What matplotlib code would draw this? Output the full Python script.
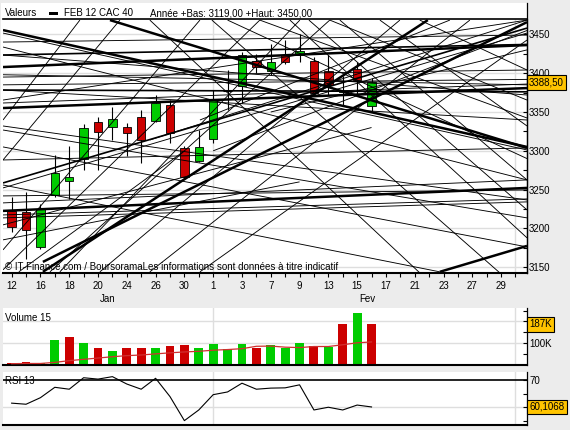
import matplotlib
matplotlib.use("Agg")
import matplotlib.pyplot as plt
from matplotlib.patches import Rectangle
from matplotlib.lines import Line2D

plt.rcParams['font.family'] = ['Liberation Sans', 'DejaVu Sans']
FS = 7

# trading days shown on the x axis (index 0 = 12 jan)
DAY_LABELS = ['12', '13', '16', '17', '18', '19', '20', '23', '24', '25', '26', '27',
              '30', '31', '1', '2', '3', '6', '7', '8', '9', '10', '13', '14', '15',
              '16', '17', '20', '21', '22', '23', '24', '27', '28', '29', '1']
MONTHS = ['Jan', 'Fev']

# daily candles, CAC 40
OPEN = [3222, 3221, 3176, 3243, 3261, 3290, 3337, 3331, 3331, 3343, 3339, 3359, 3303,
        3287, 3315, 3377, 3383, 3416, 3403, 3423, 3423, 3416, 3403, 3375.5, 3405, 3358]
HIGH = [3240, 3247, 3232, 3295, 3306, 3335, 3343, 3357, 3336, 3353, 3372, 3365, 3306,
        3327, 3378, 3404, 3427, 3425, 3438, 3443, 3450, 3421, 3423, 3396, 3415, 3394]
LOW = [3196, 3160, 3174, 3241, 3238, 3275, 3275, 3314, 3293, 3284, 3337, 3310, 3264,
       3286, 3310, 3353, 3361, 3400, 3398, 3412, 3415, 3372, 3372, 3359, 3372, 3350]
CLOSE = [3202, 3198, 3225, 3271, 3266, 3329, 3324, 3341, 3323, 3314, 3362, 3323, 3266,
         3305, 3366, 3377, 3423, 3408, 3414, 3415, 3428, 3374, 3385, 3377, 3391, 3388.5]

# volume (thousands) and 15 day average
VOLUME = [7, 12, 7, 113, 128, 100, 80, 66, 77, 80, 77, 86, 91, 80, 95, 75, 95, 76, 91,
          79, 100, 89, 82, 187, 240, 187]
VOLUME_UP = [0, 0, 1, 1, 0, 1, 0, 1, 0, 0, 1, 0, 0, 1, 1, 1, 1, 0, 1, 1, 1, 0, 1, 0, 1, 0]
VOLUME_MA = [6, 7, 7, 12, 20, 26, 32, 38, 43, 46, 51, 56, 60, 63, 68, 71, 75, 86, 87, 82,
             80, 85, 85, 93, 102, 106]

# RSI 13
RSI = [61.5, 61.1, 63.5, 67.3, 66.6, 70.8, 70.3, 71.2, 68.5, 66.6, 70.6, 63.9, 55.1,
       59.0, 64.6, 65.6, 68.8, 66.6, 67.0, 67.1, 68.2, 59.0, 60.0, 59.0, 60.8, 60.1068]

# drawn trend lines: (start day, start price, end day, end price)
THICK_LINES = [(-0.6, 3455.5, 35.8, 3305.0), (-0.6, 3355.1, 35.8, 3380.8),
               (-0.6, 3407.9, 35.8, 3436.2), (2.17, 3156.9, 35.8, 3465.8),
               (6.83, 3468.4, 35.8, 3303.7), (-0.6, 3222.6, 35.8, 3252.2),
               (29.74, 3144.1, 35.8, 3177.5), (2.17, 3144.1, 28.91, 3468.4)]
MEDIUM_LINES = [(-0.6, 3258.6, 35.8, 3458.1), (-0.6, 3378.3, 35.8, 3376.0),
                (-0.6, 3423.4, 35.8, 3437.0)]
THIN_LINES = [(-0.6, 3451.7, 35.8, 3301.1), (-0.6, 3361.6, 35.8, 3386.0),
              (-0.6, 3252.2, 35.8, 3451.7), (-0.6, 3232.9, 35.8, 3262.5),
              (-0.6, 3172.4, 13.08, 3468.4), (-0.6, 3146.7, 17.24, 3468.4),
              (2.66, 3144.1, 22.10, 3468.4), (6.13, 3144.1, 26.97, 3468.4),
              (9.60, 3144.1, 31.83, 3468.4), (13.08, 3144.1, 35.8, 3442.7),
              (3.35, 3144.1, 20.02, 3468.4), (-0.6, 3288.2, 7.52, 3468.4),
              (-0.6, 3339.7, 4.74, 3468.4), (-0.6, 3204.6, 25.0, 3330.0),
              (-0.6, 3185.3, 20.0, 3260.0), (0.5, 3144.1, 12.0, 3300.0),
              (13.91, 3468.4, 33.91, 3142.8), (19.33, 3468.4, 35.8, 3187.9),
              (20.65, 3468.4, 35.8, 3223.9), (22.80, 3468.4, 35.8, 3262.5),
              (9.60, 3468.4, 28.35, 3142.8), (25.58, 3468.4, 35.8, 3332.0),
              (22.10, 3468.4, 35.8, 3365.4), (28.35, 3468.4, 35.8, 3404.1),
              (17.24, 3468.4, 35.8, 3342.3), (15.0, 3468.4, 35.8, 3290.0),
              (-0.6, 3332.0, 35.8, 3236.7), (-0.6, 3326.8, 35.8, 3213.6),
              (-0.6, 3305.0, 35.8, 3176.2), (-0.6, 3256.0, 29.74, 3144.1),
              (-0.6, 3433.7, 35.8, 3262.5), (-0.6, 3378.3, 35.8, 3339.7),
              (-0.6, 3423.4, 35.8, 3371.9), (-0.6, 3288.2, 35.8, 3303.7),
              (-0.6, 3241.9, 35.8, 3249.6), (-0.6, 3217.4, 35.8, 3238.0),
              (-0.6, 3213.6, 35.8, 3234.2), (-0.6, 3440.1, 35.8, 3449.1),
              (-0.6, 3395.0, 35.8, 3404.1), (-0.6, 3365.4, 35.8, 3468.4),
              (9.60, 3314.0, 35.8, 3468.4), (13.08, 3339.7, 30.44, 3468.4),
              (14.0, 3300.0, 35.8, 3455.0), (-0.6, 3398.0, 35.8, 3385.0),
              (-0.6, 3385.0, 35.8, 3392.0), (18.0, 3350.0, 35.8, 3430.0)]

RED = '#CC0000'
GREEN = '#00CC00'
GRID = '#DEDEDE'
BOX = '#FFC400'
W, H = 570, 430


def fig_rect(x0, y0, x1, y1):
    # pixel box (top-left origin) to figure fraction rect
    return [x0 / W, 1 - y1 / H, (x1 - x0) / W, (y1 - y0) / H]


def value_box(ax, y, text):
    ax.text(1.0 + 2 / 524, y, text, transform=ax.get_yaxis_transform(), fontsize=FS,
            va='center', ha='left', zorder=10, clip_on=False,
            bbox=dict(boxstyle='square,pad=0.25', fc=BOX, ec='black', lw=0.8))


def style_axis(ax, ymin, ymax):
    ax.set_xlim(-0.6, 35.8)
    ax.set_ylim(ymin, ymax)
    ax.set_facecolor('white')
    for s in ['top', 'left']:
        ax.spines[s].set_visible(False)
    ax.spines['right'].set_linewidth(0.9)
    ax.spines['bottom'].set_linewidth(1.5)
    ax.yaxis.tick_right()
    ax.tick_params(axis='y', direction='in', length=3, width=0.8, labelsize=FS, pad=1.5)
    ax.axvline(14, color=GRID, lw=1, zorder=0)
    ax.axvline(35, color=GRID, lw=1, zorder=0)


fig = plt.figure(figsize=(W / 100, H / 100), dpi=100)
fig.patch.set_facecolor('#ECECEC')
fig.add_artist(Rectangle((1 / W, 1 - 273 / H), 526 / W, 270 / H, transform=fig.transFigure,
                         fc='white', ec='none', zorder=0))

# ---- price panel
ax = fig.add_axes(fig_rect(3, 19, 527, 273))
style_axis(ax, 3142.6, 3469.8)
ax.spines['top'].set_visible(True)
ax.spines['top'].set_linewidth(1.2)
ax.set_yticks(range(3150, 3451, 50))
ax.set_yticks(range(3175, 3451, 50), minor=True)
ax.tick_params(axis='y', which='minor', direction='in', length=3, width=0.8)
for level in range(3150, 3451, 50):
    ax.axhline(level, color=GRID, lw=1, zorder=0)

ax.set_xticks(range(36))
ax.set_xticklabels([d if i % 2 == 0 else '' for i, d in enumerate(DAY_LABELS)])
ax.tick_params(axis='x', direction='out', length=3, width=0.8, labelsize=FS, pad=3)

for i in range(len(OPEN)):
    o, h, l, c = OPEN[i], HIGH[i], LOW[i], CLOSE[i]
    ax.vlines(i, l, h, color='black', lw=0.8, zorder=2)
    if o == c:
        ax.hlines(o, i - 0.29, i + 0.29, color='black', lw=0.8, zorder=2)
        continue
    col = GREEN if c > o else RED
    ax.add_patch(Rectangle((i - 0.29, min(o, c)), 0.58, abs(c - o), fc=col, ec='black',
                           lw=0.6, zorder=2))

for lines, lw in [(THIN_LINES, 0.65), (MEDIUM_LINES, 1.2), (THICK_LINES, 1.8)]:
    for x0, p0, x1, p1 in lines:
        ax.plot([x0, x1], [p0, p1], color='black', lw=lw, solid_capstyle='butt', zorder=3)

ax.text(2 / 524, 6 / 254, '\u00a9 IT-Finance.com / BoursoramaLes informations sont données à titre indicatif',
        transform=ax.transAxes, fontsize=FS, va='center', ha='left', zorder=4)
for month, pos in zip(MONTHS, [6.7, 24.7]):
    ax.text(pos, -0.103, month, transform=ax.get_xaxis_transform(), fontsize=FS,
            ha='center', va='center')
value_box(ax, CLOSE[-1], f'{CLOSE[-1]:.2f}'.replace('.', ','))

# right axis line runs up through the title row
fig.add_artist(Line2D([527 / W, 527 / W], [1 - 273 / H, 1 - 3 / H], transform=fig.transFigure,
                      color='black', lw=0.9))

# title row
fig.text(5 / W, 1 - 13 / H, 'Valeurs', fontsize=FS, va='center')
fig.add_artist(Rectangle((49 / W, 1 - 15 / H), 9 / W, 3 / H, transform=fig.transFigure,
                         fc='black', ec='none'))
fig.text(64 / W, 1 - 13 / H, 'FEB 12 CAC 40', fontsize=FS, va='center')
fig.text(150 / W, 1 - 13 / H, 'Année +Bas: 3119,00 +Haut: 3450,00', fontsize=FS, va='center')

# ---- volume panel
axv = fig.add_axes(fig_rect(3, 308, 527, 365))
style_axis(axv, 0, 262)
axv.set_xticks([])
axv.set_yticks([50, 100, 150, 200, 250])
axv.set_yticklabels(['', '100K', '', '', ''])
for level in [100, 200]:
    axv.axhline(level, color=GRID, lw=1, zorder=0)
axv.bar(range(len(VOLUME)), VOLUME, width=0.62,
        color=[GREEN if u else RED for u in VOLUME_UP], zorder=2)
axv.plot(range(len(VOLUME_MA)), VOLUME_MA, color='#D03030', lw=0.9, zorder=3)
axv.text(2 / 524, 0.82, 'Volume 15', transform=axv.transAxes, fontsize=FS, va='center')
value_box(axv, VOLUME[-1], f'{VOLUME[-1]}K')

# ---- RSI panel
axr = fig.add_axes(fig_rect(3, 372, 527, 425))
style_axis(axr, 53.5, 72.9)
axr.set_xticks([])
axr.set_yticks([55, 60, 65, 70])
axr.set_yticklabels(['', '', '', '70'])
axr.axhline(60, color=GRID, lw=1, zorder=0)
axr.axhline(70, color='black', lw=1.2, zorder=1)
axr.plot(range(len(RSI)), RSI, color='black', lw=0.8, zorder=3)
axr.text(2 / 524, 0.83, 'RSI 13', transform=axr.transAxes, fontsize=FS, va='center')
value_box(axr, RSI[-1], f'{RSI[-1]:.4f}'.replace('.', ','))

fig.savefig('out.png', dpi=100, facecolor=fig.get_facecolor())
